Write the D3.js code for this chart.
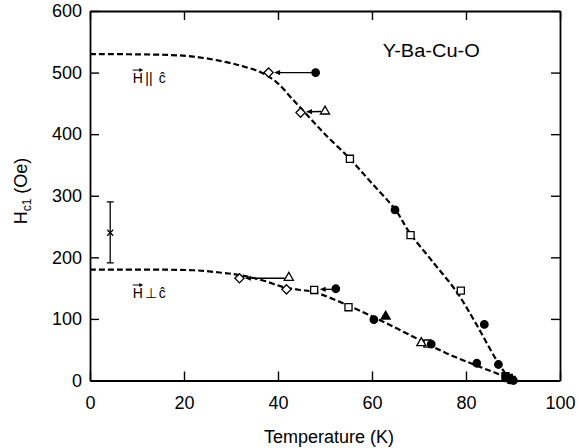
<!DOCTYPE html>
<html>
<head>
<meta charset="utf-8">
<script src="https://cdn.jsdelivr.net/npm/d3@7"></script>
<style>
  html, body { margin: 0; padding: 0; background: #fff; }
  svg { display: block; font-family: "Liberation Sans", Arial, Helvetica, sans-serif; }
</style>
</head>
<body>
<svg id="chart" width="579" height="448"></svg>
<script>
// ---- data ----
const xTicks = [0, 20, 40, 60, 80, 100];
const yTicks = [0, 100, 200, 300, 400, 500, 600];

// dashed guide curves [T (K), Hc1 (Oe)]
const parallelCurve = [[0, 530], [15, 529], [22, 526], [29, 517], [32.6, 510], [36.2, 501],
  [39.6, 485], [43.3, 455], [46.7, 427], [50, 400], [55.3, 360], [60, 320], [65, 277], [68, 240],
  [73, 192], [78, 144], [82, 94], [86.5, 33], [89.4, 0]];
const perpCurve = [[0, 180], [22, 179], [28, 175], [32, 171], [37, 162], [41, 152], [44.7, 147],
  [47.5, 144], [54.6, 123], [61.7, 98], [68.8, 71], [75.9, 44], [83, 22], [87, 10], [89.5, 0]];

// markers [T, Hc1]
const openDiamonds = [[38, 500], [44.8, 435], [31.8, 166], [41.8, 148]];
const filledCircles = [[48, 500], [64.9, 277], [83.9, 91], [86.9, 26], [52.3, 149], [60.4, 99],
  [72.6, 59], [82.3, 28], [89.5, 1], [90.1, 0]];
const openSquares = [[55.3, 360], [68.2, 236], [78.9, 146], [47.7, 147], [55, 119], [71.8, 60]];
const openTriangles = [[50, 437], [42.3, 167], [70.5, 61]];
const filledTriangles = [[62.9, 104]];
const filledSquares = [[88.4, 7], [89.1, 4], [89.7, 1]];

// shift arrows [fromT, fromH, toT, toH]
const arrows = [[48, 500, 38, 500], [50, 437, 44.8, 436], [42.3, 166, 31.8, 166], [52.3, 148, 47.7, 148]];

// single point with error bar [T, H, low, high]
const crossPoint = [4.3, 240, 191, 290];

// ---- layout ----
const svg = d3.select('#chart');
const x = d3.scaleLinear().domain([0, 100]).range([90, 560]);
const y = d3.scaleLinear().domain([0, 600]).range([380.5, 11]);

// frame + inward ticks on all four sides
const gx = svg.append('g').attr('transform', `translate(0,${y(0)})`)
  .call(d3.axisBottom(x).tickValues(xTicks).tickSize(-9).tickSizeOuter(0).tickPadding(16));
const gy = svg.append('g').attr('transform', `translate(${x(0)},0)`)
  .call(d3.axisLeft(y).tickValues(yTicks).tickSize(-9).tickSizeOuter(0).tickPadding(8));
const gt = svg.append('g').attr('transform', `translate(0,${y(600)})`)
  .call(d3.axisTop(x).tickValues(xTicks).tickSize(-9).tickSizeOuter(0).tickFormat(''));
const gr = svg.append('g').attr('transform', `translate(${x(100)},0)`)
  .call(d3.axisRight(y).tickValues(yTicks).tickSize(-9).tickSizeOuter(0).tickFormat(''));

[gx, gy, gt, gr].forEach(g => {
  g.select('.domain').attr('stroke', '#000').attr('stroke-width', 1.8);
  g.selectAll('.tick line').attr('stroke', '#000').attr('stroke-width', 1.4);
  g.selectAll('.tick text').attr('fill', '#000').attr('font-size', 18)
    .attr('font-family', '"Liberation Sans", Arial, sans-serif');
});

// axis titles
svg.append('text')
  .attr('x', 329).attr('y', 443)
  .attr('text-anchor', 'middle')
  .attr('font-size', 18)
  .text('Temperature (K)');

const yTitle = svg.append('text')
  .attr('transform', 'translate(27,191) rotate(-90)')
  .attr('text-anchor', 'middle')
  .attr('font-size', 18);
yTitle.append('tspan').text('H');
yTitle.append('tspan').attr('font-size', 12).attr('dy', 4).text('c1');
yTitle.append('tspan').attr('dy', -4).text(' (Oe)');

svg.append('text')
  .attr('x', x(72.6)).attr('y', 57)
  .attr('text-anchor', 'middle')
  .attr('font-size', 18)
  .attr('textLength', 97).attr('lengthAdjust', 'spacingAndGlyphs')
  .text('Y-Ba-Cu-O');

// field-orientation labels
function fieldLabel(t, h, sym) {
  const bx = x(t), by = y(h);
  const g = svg.append('g');
  const txt = g.append('text').attr('y', by).attr('font-size', 14);
  txt.append('tspan').attr('x', bx).text('H');
  txt.append('tspan').attr('x', bx + 12.5).text(sym);
  txt.append('tspan').attr('x', bx + 26).text('\u0109');
  // vector arrow over H
  g.append('line').attr('x1', bx).attr('x2', bx + 8).attr('y1', by - 13).attr('y2', by - 13)
    .attr('stroke', '#000').attr('stroke-width', 1);
  g.append('path').attr('d', `M${bx + 10.5},${by - 13}L${bx + 6.5},${by - 15}L${bx + 6.5},${by - 11}Z`).attr('fill', '#000');
}
fieldLabel(9.1, 483, '||');
fieldLabel(9.1, 134, '\u22A5');

// dashed curves
const line = d3.line().x(d => x(d[0])).y(d => y(d[1])).curve(d3.curveCatmullRom.alpha(0.5));
[parallelCurve, perpCurve].forEach(c => {
  svg.append('path').attr('d', line(c))
    .attr('fill', 'none').attr('stroke', '#000')
    .attr('stroke-width', 2.2).attr('stroke-dasharray', '6,3');
});

// arrows
arrows.forEach(([t0, h0, t1, h1]) => {
  const sx = x(t0), sy = y(h0), tx = x(t1), ty = y(h1);
  const len = Math.hypot(tx - sx, ty - sy);
  const ux = (tx - sx) / len, uy = (ty - sy) / len;
  const tipX = tx - ux * 5.5, tipY = ty - uy * 5.5;
  svg.append('line')
    .attr('x1', sx + ux * 4).attr('y1', sy + uy * 4)
    .attr('x2', tipX - ux * 4).attr('y2', tipY - uy * 4)
    .attr('stroke', '#000').attr('stroke-width', 1.4);
  const bx = tipX - ux * 6, by = tipY - uy * 6;
  svg.append('path')
    .attr('d', `M${tipX},${tipY}L${bx - uy * 2.6},${by + ux * 2.6}L${bx + uy * 2.6},${by - ux * 2.6}Z`)
    .attr('fill', '#000');
});

// markers
const diamond = r => `M0,${-r}L${r},0L0,${r}L${-r},0Z`;
function drawMarkers(data, pathD, filled) {
  svg.append('g').selectAll('path').data(data).join('path')
    .attr('transform', d => `translate(${x(d[0])},${y(d[1])})`)
    .attr('d', pathD)
    .attr('fill', filled ? '#000' : '#fff')
    .attr('stroke', '#000').attr('stroke-width', 1.3);
}
drawMarkers(openSquares, d3.symbol(d3.symbolSquare, 50)(), false);
drawMarkers(openTriangles, d3.symbol(d3.symbolTriangle, 36)(), false);
drawMarkers(openDiamonds, diamond(4.6), false);
drawMarkers(filledTriangles, d3.symbol(d3.symbolTriangle, 36)(), true);
drawMarkers(filledCircles, d3.symbol(d3.symbolCircle, 44)(), true);
drawMarkers(filledSquares, d3.symbol(d3.symbolSquare, 50)(), true);

// x point with error bar
{
  const [t, h, lo, hi] = crossPoint;
  const cx = x(t);
  const g = svg.append('g').attr('stroke', '#000').attr('stroke-width', 1.3);
  g.append('line').attr('x1', cx).attr('x2', cx).attr('y1', y(lo)).attr('y2', y(hi));
  g.append('line').attr('x1', cx - 3.5).attr('x2', cx + 3.5).attr('y1', y(lo)).attr('y2', y(lo));
  g.append('line').attr('x1', cx - 3.5).attr('x2', cx + 3.5).attr('y1', y(hi)).attr('y2', y(hi));
  g.append('path').attr('d', `M${cx - 3},${y(h) - 3}L${cx + 3},${y(h) + 3}M${cx - 3},${y(h) + 3}L${cx + 3},${y(h) - 3}`);
}
</script>
</body>
</html>
